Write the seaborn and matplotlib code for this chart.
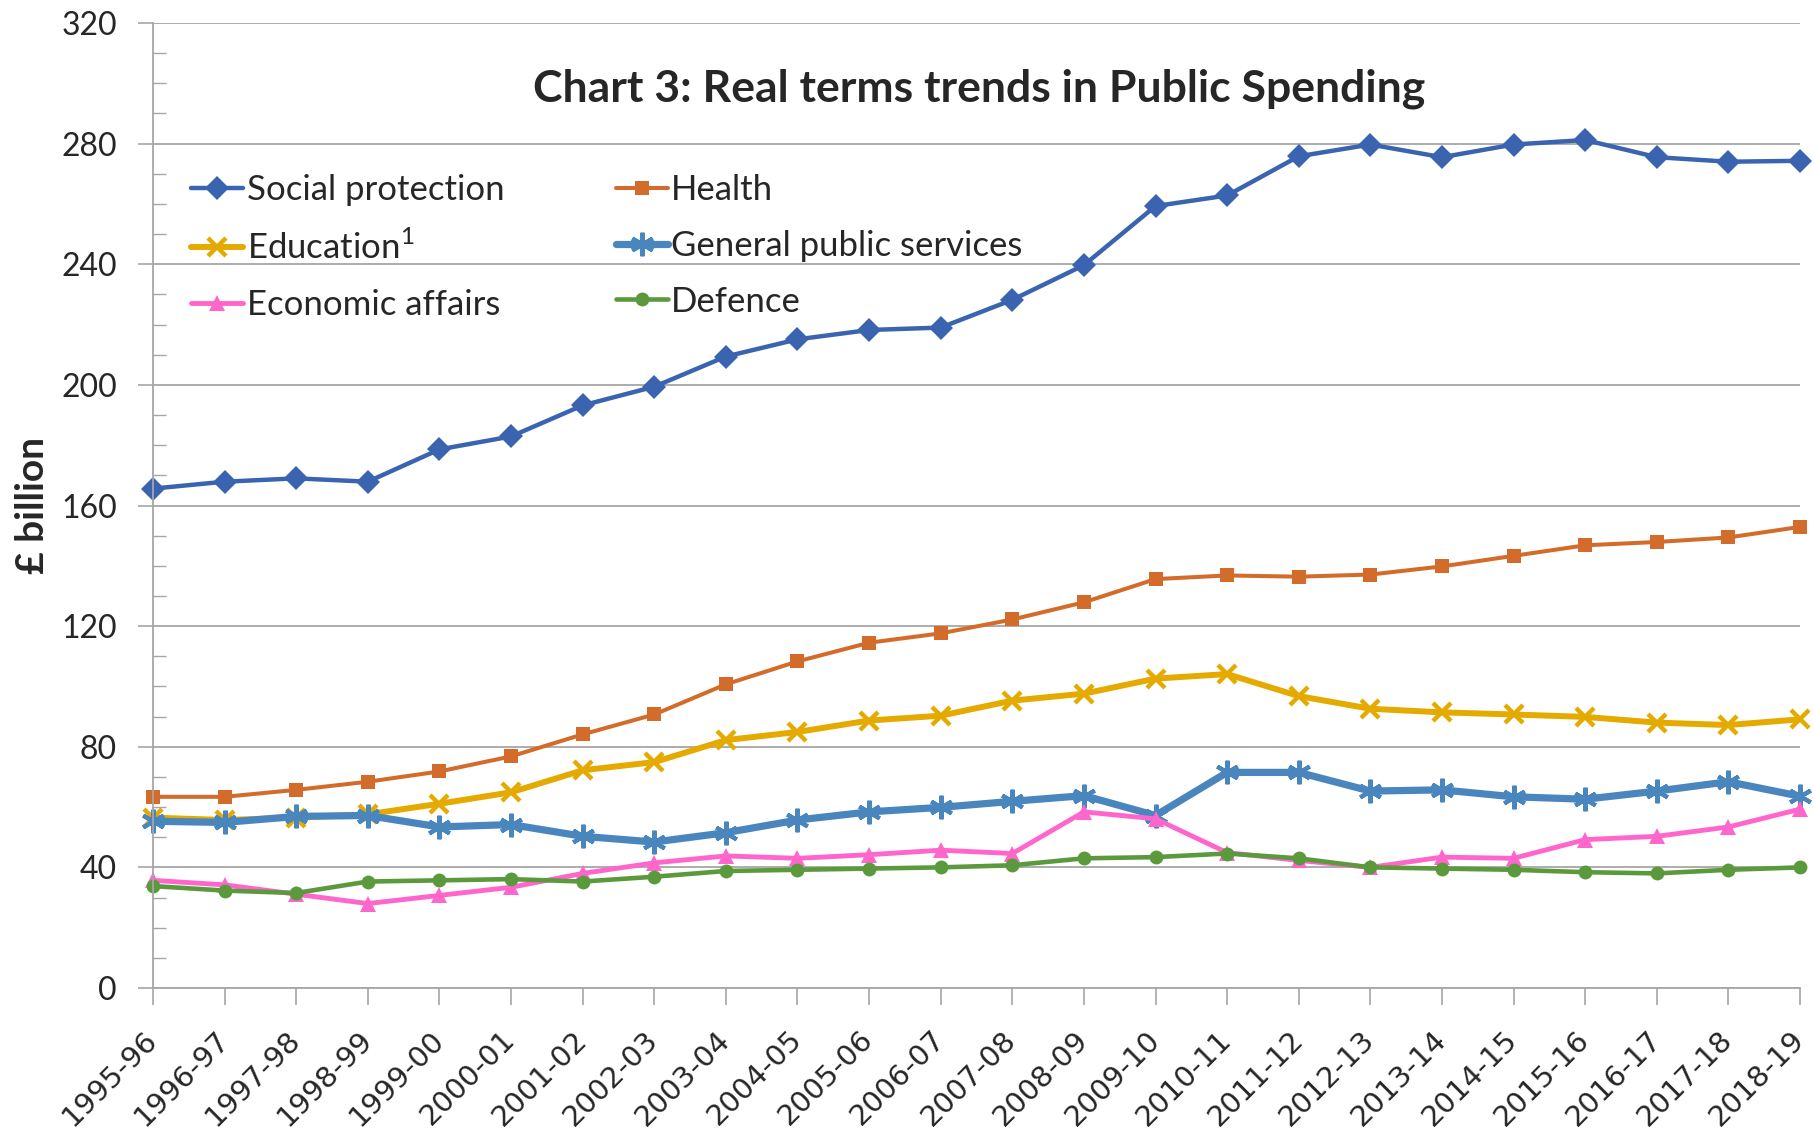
import numpy as np
import pandas as pd
import matplotlib
matplotlib.use("Agg")
import matplotlib.pyplot as plt
import seaborn as sns
from matplotlib.ticker import MultipleLocator

years = ["1995-96", "1996-97", "1997-98", "1998-99", "1999-00", "2000-01", "2001-02",
         "2002-03", "2003-04", "2004-05", "2005-06", "2006-07", "2007-08", "2008-09",
         "2009-10", "2010-11", "2011-12", "2012-13", "2013-14", "2014-15", "2015-16",
         "2016-17", "2017-18", "2018-19"]

social_protection = [165.6, 167.9, 169.0, 167.9, 178.6, 182.9, 193.2, 199.4, 209.4, 215.1,
                     218.2, 219.0, 228.2, 239.7, 259.3, 262.8, 275.8, 279.7, 275.5, 279.7,
                     281.2, 275.5, 274.0, 274.3]
health = [63.4, 63.4, 65.7, 68.4, 71.8, 76.8, 84.1, 90.7, 100.7, 108.3, 114.5, 117.6,
          122.2, 127.9, 135.6, 136.8, 136.4, 137.1, 139.8, 143.3, 146.8, 147.9, 149.4, 152.9]
education = [56.5, 55.7, 56.5, 57.6, 61.1, 64.9, 72.2, 74.9, 82.2, 84.9, 88.7, 90.3,
             95.3, 97.6, 102.6, 104.1, 96.8, 92.6, 91.4, 90.7, 89.9, 88.0, 87.2, 89.1]
general_public_services = [55.3, 54.9, 56.9, 57.2, 53.4, 54.2, 50.3, 48.4, 51.5, 55.7, 58.4,
                           59.9, 61.9, 63.8, 57.2, 71.5, 71.5, 65.3, 65.7, 63.4, 62.6, 65.3,
                           68.4, 63.6]
economic_affairs = [35.7, 34.2, 31.1, 28.0, 30.7, 33.4, 38.0, 41.5, 43.8, 43.0, 44.2, 45.7,
                    44.6, 58.4, 56.1, 44.9, 42.3, 40.0, 43.4, 43.0, 49.2, 50.3, 53.4, 59.3]
defence = [33.8, 32.3, 31.5, 35.3, 35.7, 36.1, 35.3, 36.9, 38.8, 39.2, 39.6, 40.0, 40.7,
           43.0, 43.4, 44.6, 43.0, 40.0, 39.6, 39.2, 38.4, 38.0, 39.2, 40.0]

series_names = ["Social protection", "Health", "Education$^{1}$", "General public services",
                "Economic affairs", "Defence"]
series_values = [social_protection, health, education, general_public_services,
                 economic_affairs, defence]

sns.set_theme(style="white")
plt.rcParams["font.family"] = ["Lato", "DejaVu Sans"]
plt.rcParams["mathtext.fontset"] = "custom"
plt.rcParams["mathtext.rm"] = "Lato"

styles = {
    "Social protection": dict(color="#3B64B0", marker="D", ms=12.5, lw=3.2, mew=0),
    "Health": dict(color="#D36C2A", marker="s", ms=9.5, lw=2.9, mew=0),
    "Education$^{1}$": dict(color="#E5AA00", marker="x", ms=13.5, lw=4.3, mew=3.2),
    "General public services": dict(color="#4A86BE", marker=(6, 2, 0), ms=17, lw=5.2, mew=3.0),
    "Economic affairs": dict(color="#FF66CC", marker="^", ms=11.5, lw=3.5, mew=0),
    "Defence": dict(color="#5B9A3C", marker="o", ms=10, lw=3.3, mew=0),
}

fig = plt.figure(figsize=(18.15, 11.29), dpi=100)
ax = fig.add_axes([153 / 1815, 1 - 988 / 1129, (1800 - 153) / 1815, (988 - 23) / 1129])

x = np.arange(len(years))
for name, vals in zip(series_names, series_values):
    df = pd.DataFrame({"x": x, "y": vals})
    st = styles[name]
    sns.lineplot(data=df, x="x", y="y", ax=ax, color=st["color"], linewidth=st["lw"],
                 marker=st["marker"], markersize=st["ms"], markeredgewidth=st["mew"],
                 markeredgecolor=st["color"], markerfacecolor=st["color"], label=name,
                 clip_on=False)

ax.set_xlim(0, 23)
ax.set_ylim(0, 320)
ax.yaxis.set_major_locator(MultipleLocator(40))
ax.yaxis.set_minor_locator(MultipleLocator(10))
ax.set_xticks(x)
ax.set_xticklabels(years, rotation=45, ha="right", va="center", rotation_mode="anchor",
                   fontsize=21)
ax.tick_params(axis="x", which="major", direction="out", length=12, width=1.2, color="#A6A6A6",
               pad=22, bottom=True)
ax.tick_params(axis="y", which="major", direction="out", length=11, width=1.2, color="#A6A6A6",
               labelsize=23, pad=15, left=True)
ax.tick_params(axis="y", which="minor", direction="in", length=9, width=1.0, color="#A6A6A6",
               left=True)
for lbl in ax.get_xticklabels():
    lbl.set_fontfamily(["DejaVu Sans"])
ax.grid(axis="y", which="major", color="#A6A6A6", linewidth=1.3)
ax.set_axisbelow(True)
for s in ["top", "right"]:
    ax.spines[s].set_visible(False)
for s in ["left", "bottom"]:
    ax.spines[s].set_color("#A6A6A6")
    ax.spines[s].set_linewidth(1.3)

ax.set_xlabel("")
ax.set_ylabel("£ billion", fontsize=28, fontweight="bold")
ax.yaxis.set_label_coords(-(153 - 50) / 1647, 0.5)

ax.text(0.5015, 0.932, "Chart 3: Real terms trends in Public Spending", transform=ax.transAxes,
        ha="center", va="center", fontsize=32, fontweight="bold")

h, l = ax.get_legend_handles_labels()
order = [0, 2, 4, 1, 3, 5]
leg = ax.legend([h[i] for i in order], [l[i] for i in order], ncol=2, loc="upper left",
                bbox_to_anchor=(0.0064, 0.872), frameon=False, fontsize=25, handlelength=1.5,
                handletextpad=0.1, columnspacing=3.2, labelspacing=0.68, borderpad=0.3)

fig.savefig("out.png", dpi=100, facecolor="white")
